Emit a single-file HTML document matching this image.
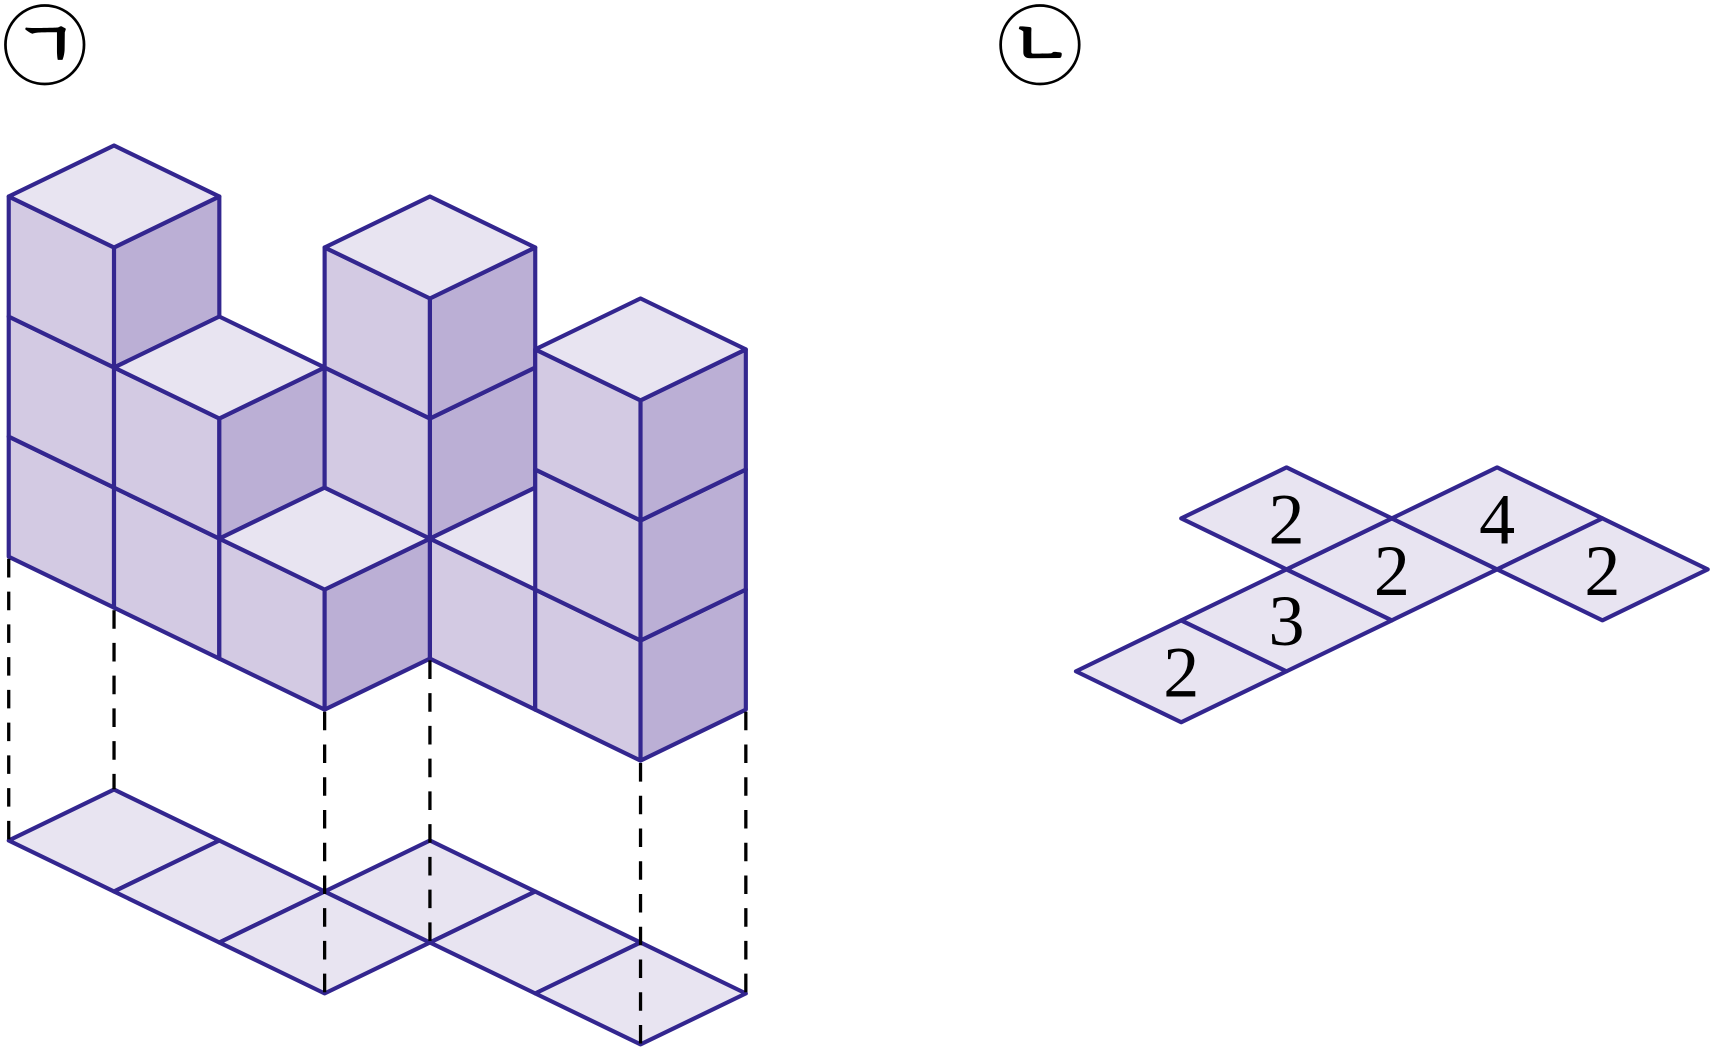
<!DOCTYPE html>
<html><head><meta charset="utf-8"><style>
html,body{margin:0;padding:0;background:#fff;}
svg{display:block;}
</style></head><body>
<svg id="s" width="1711" height="1049" viewBox="0 0 1568 961" preserveAspectRatio="none" xmlns="http://www.w3.org/2000/svg">
<circle cx="41" cy="41" r="36" fill="none" stroke="#000" stroke-width="2.5"/>
<text x="42" y="62" font-family="'Noto Serif CJK SC','Noto Sans CJK KR',serif" font-size="62" font-weight="bold" text-anchor="middle" fill="#000">ㄱ</text>
<circle cx="953" cy="41" r="36" fill="none" stroke="#000" stroke-width="2.5"/>
<text x="954" y="62" font-family="'Noto Serif CJK SC','Noto Sans CJK KR',serif" font-size="62" font-weight="bold" text-anchor="middle" fill="#000">ㄴ</text>
<g id="g"></g>
<g font-family="'Liberation Serif',serif" font-size="66" text-anchor="middle" fill="#000">
<text x="1082.5" y="638">2</text>
<text x="1179" y="591">3</text>
<text x="1275.5" y="545">2</text>
<text x="1179" y="498">2</text>
<text x="1372" y="498">4</text>
<text x="1468.5" y="545">2</text>
</g>
</svg>
<script>
(function(){
var NS="http://www.w3.org/2000/svg",g=document.getElementById('g');
var ax=96.5,ay=46.7,bx=96.5,by=-46.7,h=110;
var SC="#33268f",SW=3.8;
function poly(pts,fill){var p=document.createElementNS(NS,'polygon');
p.setAttribute('points',pts.map(function(q){return q[0].toFixed(1)+','+q[1].toFixed(1)}).join(' '));
p.setAttribute('fill',fill);p.setAttribute('stroke',SC);p.setAttribute('stroke-width',SW);p.setAttribute('stroke-linejoin','round');g.appendChild(p);}
function line(x1,y1,x2,y2){var l=document.createElementNS(NS,'line');
l.setAttribute('x1',x1);l.setAttribute('y1',y1);l.setAttribute('x2',x2);l.setAttribute('y2',y2);
l.setAttribute('stroke','#000');l.setAttribute('stroke-width','3');l.setAttribute('stroke-dasharray','17 13');g.appendChild(l);}
function cell(ox,oy,m,n,fill){var L=[ox+m*ax+n*bx,oy+m*ay+n*by];
poly([L,[L[0]+bx,L[1]+by],[L[0]+ax+bx,L[1]+ay+by],[L[0]+ax,L[1]+ay]],fill);}
var TOP="#e8e4f1",LEFT="#d3cae3",RIGHT="#bbafd5";
[[0,0],[1,0],[2,0],[2,1],[3,1],[4,1]].forEach(function(c){cell(8,770,c[0],c[1],TOP);});
[[0,0],[0,1],[0,2],[-1,2],[0,3],[1,3]].forEach(function(c){cell(986,615,c[0],c[1],TOP);});
var H=[[0,0,3],[1,0,2],[2,0,1],[2,1,3],[3,1,1],[4,1,3]],cubes=[];
H.forEach(function(c){for(var k=0;k<c[2];k++)cubes.push([c[0],c[1],k]);});
cubes.sort(function(p,q){return (p[0]-p[1]+p[2])-(q[0]-q[1]+q[2]);});
cubes.forEach(function(c){
var Lx=8+c[0]*ax+c[1]*bx,Ly=510+c[0]*ay+c[1]*by-c[2]*h;
var L=[Lx,Ly],T=[Lx+bx,Ly+by],R=[Lx+ax+bx,Ly+ay+by],B=[Lx+ax,Ly+ay];
function u(p){return [p[0],p[1]-h];}
poly([L,B,u(B),u(L)],LEFT);
poly([B,R,u(R),u(B)],RIGHT);
poly([u(L),u(T),u(R),u(B)],TOP);
});
line(8,512,8,770);line(104.5,559,104.5,723);line(297.5,652,297.5,910);
line(394,605,394,863);line(587,699,587,957);line(683.5,652,683.5,910);
})();
</script>
</body></html>
